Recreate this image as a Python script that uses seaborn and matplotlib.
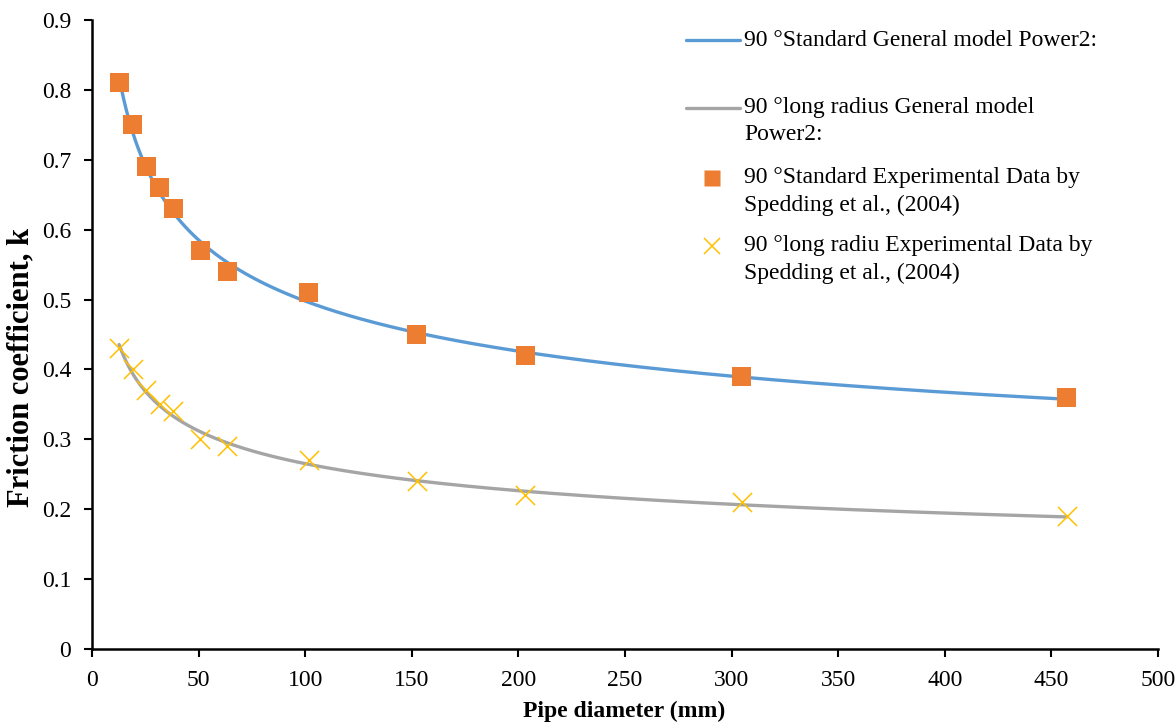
import numpy as np
import pandas as pd
import matplotlib
matplotlib.use("Agg")
import matplotlib.pyplot as plt
from matplotlib.lines import Line2D
from matplotlib.ticker import FuncFormatter
import seaborn as sns

# ---- data ----
diameters = [12.7, 19.05, 25.4, 31.75, 38.1, 50.8, 63.5, 101.6, 152.4, 203.2, 304.8, 457.2]
k_standard = [0.81, 0.75, 0.69, 0.66, 0.63, 0.57, 0.54, 0.51, 0.45, 0.42, 0.39, 0.36]
k_long = [0.43, 0.40, 0.37, 0.35, 0.34, 0.30, 0.29, 0.27, 0.24, 0.22, 0.21, 0.19]
x_ticks = [0, 50, 100, 150, 200, 250, 300, 350, 400, 450, 500]
y_ticks = [0, 0.1, 0.2, 0.3, 0.4, 0.5, 0.6, 0.7, 0.8, 0.9]

labels = [
    ["90 °Standard General model Power2:"],
    ["90 °long radius General model", "Power2:"],
    ["90 °Standard Experimental Data by", "Spedding et al., (2004)"],
    ["90 °long radiu Experimental Data by", "Spedding et al., (2004)"],
]

C_BLUE = "#5B9BD5"
C_GRAY = "#A5A5A5"
C_ORANGE = "#ED7D31"
C_GOLD = "#FFC000"


def power2_fit(x, y):
    """Least-squares fit of y = a*x^b + c (Power2 general model)."""
    x = np.asarray(x, float)
    y = np.asarray(y, float)
    best = None
    for b in np.linspace(-3.0, -0.01, 3000):
        A = np.column_stack([x ** b, np.ones_like(x)])
        coef, *_ = np.linalg.lstsq(A, y, rcond=None)
        sse = np.sum((A @ coef - y) ** 2)
        if best is None or sse < best[0]:
            best = (sse, coef[0], b, coef[1])
    _, a, b, c = best
    return lambda t: a * np.asarray(t, float) ** b + c


xs = np.linspace(min(diameters), max(diameters), 400)
f_std = power2_fit(diameters, k_standard)
f_long = power2_fit(diameters, k_long)
curve_df = pd.DataFrame({"x": xs, "std": f_std(xs), "long": f_long(xs)})
pts_df = pd.DataFrame({"d": diameters, "std": k_standard, "long": k_long})

sns.set_theme(style="white")
plt.rcParams["font.family"] = ["Liberation Serif", "DejaVu Serif"]
plt.rcParams["text.color"] = "black"
plt.rcParams["axes.labelcolor"] = "black"

W, H = 1176, 726
fig = plt.figure(figsize=(W / 100, H / 100), dpi=100)
ax = fig.add_axes([92 / W, 1 - 649 / H, (1158 - 92) / W, (649 - 20) / H])

sns.lineplot(data=curve_df, x="x", y="std", ax=ax, color=C_BLUE, linewidth=2.4, zorder=2)
sns.lineplot(data=curve_df, x="x", y="long", ax=ax, color=C_GRAY, linewidth=2.4, zorder=2)
sns.scatterplot(data=pts_df, x="d", y="std", ax=ax, marker="s", s=190, color=C_ORANGE,
                edgecolor="none", zorder=3)
sns.scatterplot(data=pts_df, x="d", y="long", ax=ax, marker="x", s=190, color=C_GOLD,
                linewidth=1.1, zorder=3)

ax.set_xlim(0, 500)
ax.set_ylim(0, 0.9)
ax.set_xticks(x_ticks)
ax.set_yticks(y_ticks)
ax.yaxis.set_major_formatter(FuncFormatter(lambda v, p: "0" if abs(v) < 1e-9 else f"{v:.1f}"))
ax.tick_params(axis="both", direction="out", length=6, width=1.5, colors="black",
               labelsize=17, pad=9, left=True, bottom=True)
for side in ["top", "right"]:
    ax.spines[side].set_visible(False)
for side in ["left", "bottom"]:
    ax.spines[side].set_color("black")
    ax.spines[side].set_linewidth(1.8)

ax.set_xlabel("Pipe diameter (mm)", fontsize=17, fontweight="bold", color="black")
ax.set_ylabel("Friction coefficient, k", fontsize=22, fontweight="bold", color="black")
ax.xaxis.set_label_coords(0.499, -0.083)
ax.yaxis.set_label_coords(-0.053, 0.447)

# ---- legend drawn as in the original (handle on first text line) ----
def fx(px):
    return px / W


def fy(py):
    return 1 - py / H


fs = 17
fig.add_artist(Line2D([fx(686), fx(740)], [fy(40), fy(40)], color=C_BLUE, lw=2.4,
                      transform=fig.transFigure))
fig.add_artist(Line2D([fx(686), fx(740)], [fy(108), fy(108)], color=C_GRAY, lw=2.4,
                      transform=fig.transFigure))
fig.add_artist(Line2D([fx(712)], [fy(178)], marker="s", markersize=11, color=C_ORANGE,
                      markeredgecolor="none", linestyle="none", transform=fig.transFigure))
fig.add_artist(Line2D([fx(712)], [fy(246)], marker="x", markersize=12, color=C_GOLD,
                      markeredgewidth=1.1, linestyle="none", transform=fig.transFigure))
row_y = [[40], [108, 135], [178, 205], [246, 273]]
for lines, ys in zip(labels, row_y):
    for t, yy in zip(lines, ys):
        fig.text(fx(744), fy(yy), t, fontsize=fs, va="center", ha="left", color="black")

fig.savefig("out.png", dpi=100)
